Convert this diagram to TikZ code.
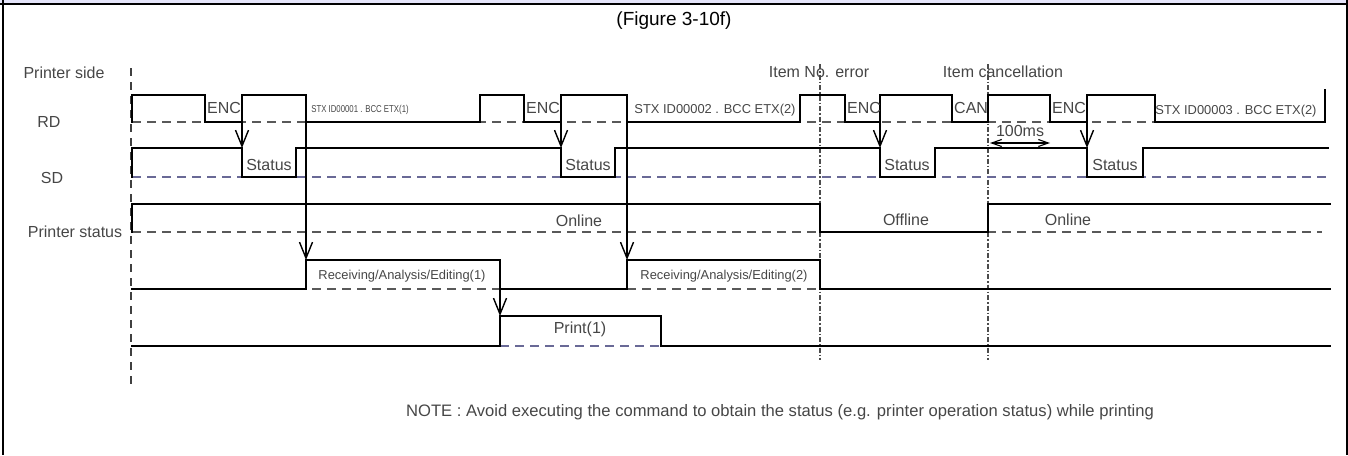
\documentclass[tikz,border=0pt]{standalone}
\usepackage{fontspec}
\setmainfont{Liberation Sans}
\usetikzlibrary{arrows.meta}
\definecolor{lav}{RGB}{228,228,250}
\definecolor{sdblue}{RGB}{105,105,150}
\definecolor{txt}{RGB}{70,70,70}
\tikzset{
  sig/.style={line width=1.8pt, line join=miter, line cap=rect},
  basel/.style={line width=1.4pt, dash pattern=on 9pt off 6pt, draw=black!65},
  basesd/.style={basel, draw=sdblue},
  arr/.style={line width=1.4pt, -{Straight Barb[length=16pt,width=13pt,line width=1.4pt]}},
  evtline/.style={line width=1.3pt, draw=black!70, dash pattern=on 5pt off 2pt on 1.5pt off 2pt},
  lbl/.style={font=\fontsize{16}{18}\selectfont, text=txt, inner sep=0pt},
  stx/.style={font=\fontsize{12.9}{14}\selectfont, text=txt, inner sep=0pt},
}
\begin{document}
\begin{tikzpicture}[x=1pt,y=-1pt]
\useasboundingbox (0,0) rectangle (1348,455);
% frame
\fill[lav] (0,0) rectangle (1348,3.3);
\draw[line width=2pt] (0,4.3) -- (1348,4.3);
\draw[line width=2.2pt] (3,0) -- (3,455);
\draw[line width=2pt] (1346.5,0) -- (1346.5,455);
\node[font=\fontsize{19}{22}\selectfont, inner sep=0pt] (title) at (674,21) {(Figure 3-10f)};

% left labels
\node[lbl] (pside) at (64,73) {Printer side};
\node[lbl] (rd) at (49,122) {RD};
\node[lbl] (sd) at (52,178) {SD};
\node[lbl] (pstat) at (75,232) {Printer status};

% left reference line
\draw[line width=1.3pt, draw=black!75, dash pattern=on 8pt off 6pt] (131,68) -- (131,384);
% event lines
\draw[evtline] (820,64) -- (820,360);
\draw[evtline] (988,64) -- (988,360);
\node[lbl] (err) at (819,72) {Item No. error};
\node[lbl] (canc) at (1003,72) {Item cancellation};

% baselines
\draw[basel] (132,122) -- (1325,122);
\draw[basesd] (132,177) -- (1328,177);
\draw[basel] (132,232) -- (1322,232);
\draw[basel] (132,289) -- (1328,289);
\draw[basesd] (500,346) -- (661,346);

% RD
\draw[sig] (132,122) -- (132,95) -- (205,95) -- (205,122) -- (242,122) -- (242,95) -- (306,95) -- (306,122) -- (480,122) -- (480,95) -- (524,95) -- (524,122) -- (561,122) -- (561,95) -- (627,95) -- (627,122) -- (800,122) -- (800,95) -- (845,95) -- (845,122) -- (880,122) -- (880,95) -- (952,95) -- (952,122) -- (988,122) -- (988,95) -- (1050,95) -- (1050,122) -- (1087,122) -- (1087,95) -- (1155,95) -- (1155,122) -- (1325,122) -- (1325,90);
% SD
\draw[sig] (132,177) -- (132,148) -- (242,148) -- (242,177) -- (296,177) -- (296,148) -- (561,148) -- (561,177) -- (615,177) -- (615,148) -- (880,148) -- (880,177) -- (935,177) -- (935,148) -- (1087,148) -- (1087,177) -- (1143,177) -- (1143,148) -- (1328,148);
% Printer status
\draw[sig] (132,232) -- (132,204) -- (820,204) -- (820,232) -- (988,232) -- (988,204) -- (1330,204);
% Receiving
\draw[sig] (132,289) -- (306,289) -- (306,260) -- (500,260) -- (500,289) -- (627,289) -- (627,260) -- (820,260) -- (820,289) -- (1330,289);
% Print
\draw[sig] (132,346) -- (500,346) -- (500,316) -- (661,316) -- (661,346) -- (1330,346);

% arrows
\coordinate (a1s) at (242,122); \coordinate (a1e) at (242,148);
\coordinate (a2s) at (561,122); \coordinate (a2e) at (561,148);
\coordinate (a3s) at (880,122); \coordinate (a3e) at (880,148);
\coordinate (a4s) at (1087,122); \coordinate (a4e) at (1087,148);
\coordinate (l1s) at (306,122); \coordinate (l1e) at (306,260);
\coordinate (l2s) at (627,122); \coordinate (l2e) at (627,260);
\coordinate (p1s) at (500,289); \coordinate (p1e) at (500,316);
\draw[arr] (a1s) -- (a1e);
\draw[arr] (a2s) -- (a2e);
\draw[arr] (a3s) -- (a3e);
\draw[arr] (a4s) -- (a4e);
\draw[arr] (l1s) -- (l1e);
\draw[arr] (l2s) -- (l2e);
\draw[arr] (p1s) -- (p1e);

% 100ms
\coordinate (ms1) at (990,143); \coordinate (ms2) at (1050,143);
\draw[line width=1.1pt, {Straight Barb[length=10pt,width=7pt]}-{Straight Barb[length=10pt,width=7pt]}] (ms1) -- (ms2);
\node[lbl] (ms) at (1020,131) {100ms};

% RD labels
\node[lbl, anchor=west] (enc1) at (207,108) {ENC};
\node[lbl, anchor=west] (enc2) at (526,108) {ENC};
\node[lbl, anchor=west] (enc3) at (847,108) {ENC};
\node[lbl, anchor=west] (can) at (954,108) {CAN};
\node[lbl, anchor=west] (enc4) at (1052,108) {ENC};
\node[stx, font=\fontsize{10}{11}\selectfont] (stx1) at (360,110) {\scalebox{0.78}[1]{STX ID00001 . BCC ETX(1)}};
\node[stx] (stx2) at (715,110) {STX ID00002 . BCC ETX(2)};
\node[stx] (stx3) at (1236,111) {STX ID00003 . BCC ETX(2)};

% SD labels
\node[lbl] (st1) at (269,165) {Status};
\node[lbl] (st2) at (588,165) {Status};
\node[lbl] (st3) at (907,165) {Status};
\node[lbl] (st4) at (1115,165) {Status};

% Printer status labels
\node[lbl] (on1) at (579,221) {Online};
\node[lbl] (off) at (906,220) {Offline};
\node[lbl] (on2) at (1068,220) {Online};

% receiving labels
\node[stx] (rcv1) at (402,276) {Receiving/Analysis/Editing(1)};
\node[stx] (rcv2) at (724,276) {Receiving/Analysis/Editing(2)};
\node[lbl] (pr1) at (580,329) {Print(1)};

% note
\node[lbl, font=\fontsize{16.6}{18}\selectfont] (note) at (780,412) {NOTE : Avoid executing the command to obtain the status (e.g. printer operation status) while printing};
\end{tikzpicture}
\end{document}
